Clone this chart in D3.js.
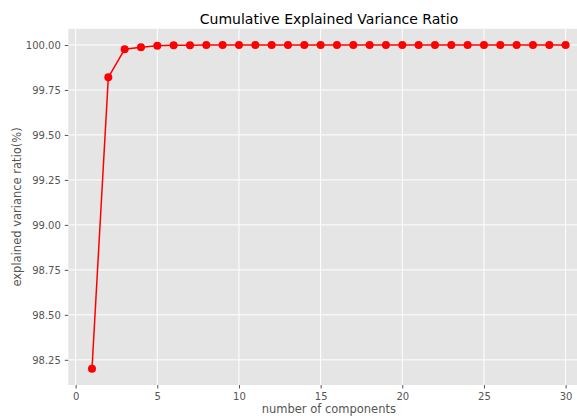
<!DOCTYPE html>
<html>
<head>
<meta charset="utf-8">
<script src="https://d3js.org/d3.v7.min.js"></script>
<style>
  body { margin: 0; background: #fff; }
  svg { font-family: "DejaVu Sans", sans-serif; display: block; }
</style>
</head>
<body>
<div id="chart"></div>
<script>
// data
var components = d3.range(1, 31);
var cumVariance = [98.20, 99.82, 99.976, 99.988, 99.996, 99.998, 99.999, 99.9995, 99.9997, 99.9998,
  99.9999, 99.9999, 100, 100, 100, 100, 100, 100, 100, 100,
  100, 100, 100, 100, 100, 100, 100, 100, 100, 100];
var xTicks = [0, 5, 10, 15, 20, 25, 30];
var yTicks = [98.25, 98.5, 98.75, 99.0, 99.25, 99.5, 99.75, 100.0];

var svgWidth = 577;
var svgHeight = 416;

var margin = { top: 28.8, left: 68.3 };
var width = 589.3 - margin.left;   // axes run past the right edge of the image
var height = 385 - margin.top;

var svg = d3.select("#chart")
  .append("svg")
  .attr("width", svgWidth)
  .attr("height", svgHeight);

var chartGroup = svg.append("g")
  .attr("transform", `translate(${margin.left}, ${margin.top})`);

var xScale = d3.scaleLinear()
  .domain([-0.45, 31.45])
  .range([0, width]);

var yScale = d3.scaleLinear()
  .domain([98.11, 100.09])
  .range([height, 0]);

// background
chartGroup.append("rect")
  .attr("width", width)
  .attr("height", height)
  .attr("fill", "#e5e5e5");

// grid
chartGroup.selectAll(".xgrid")
  .data(xTicks)
  .enter()
  .append("line")
  .attr("x1", d => xScale(d))
  .attr("x2", d => xScale(d))
  .attr("y1", 0)
  .attr("y2", height)
  .attr("stroke", "#fff")
  .attr("stroke-width", 1);

chartGroup.selectAll(".ygrid")
  .data(yTicks)
  .enter()
  .append("line")
  .attr("x1", 0)
  .attr("x2", width)
  .attr("y1", d => yScale(d))
  .attr("y2", d => yScale(d))
  .attr("stroke", "#fff")
  .attr("stroke-width", 1);

// axes
var bottomAxis = d3.axisBottom(xScale)
  .tickValues(xTicks)
  .tickSize(3.5)
  .tickPadding(4);
var leftAxis = d3.axisLeft(yScale)
  .tickValues(yTicks)
  .tickFormat(d3.format(".2f"))
  .tickSize(3.5)
  .tickPadding(4);

var xAxis = chartGroup.append("g")
  .attr("transform", `translate(0, ${height})`)
  .call(bottomAxis);
var yAxis = chartGroup.append("g")
  .call(leftAxis);

[xAxis, yAxis].forEach(function(ax) {
  ax.select(".domain").remove();
  ax.selectAll(".tick line").attr("stroke", "#555");
  ax.selectAll(".tick text")
    .attr("fill", "#555")
    .style("font-size", "10px")
    .style("font-family", "DejaVu Sans, sans-serif");
});

// line + markers
var line = d3.line()
  .x((d, i) => xScale(components[i]))
  .y(d => yScale(d));

chartGroup.append("path")
  .datum(cumVariance)
  .attr("d", line)
  .attr("fill", "none")
  .attr("stroke", "red")
  .attr("stroke-width", 1.5);

chartGroup.selectAll("circle")
  .data(cumVariance)
  .enter()
  .append("circle")
  .attr("cx", (d, i) => xScale(components[i]))
  .attr("cy", d => yScale(d))
  .attr("r", 4)
  .attr("fill", "red");

// labels
svg.append("text")
  .attr("x", 329)
  .attr("y", 24)
  .attr("text-anchor", "middle")
  .style("font-size", "14px")
  .attr("fill", "#000")
  .text("Cumulative Explained Variance Ratio");

svg.append("text")
  .attr("x", margin.left + width / 2)
  .attr("y", 413)
  .attr("text-anchor", "middle")
  .style("font-size", "11.5px")
  .attr("fill", "#555")
  .text("number of components");

svg.append("text")
  .attr("transform", `translate(21, ${margin.top + height / 2}) rotate(-90)`)
  .attr("text-anchor", "middle")
  .style("font-size", "11.5px")
  .attr("fill", "#555")
  .text("explained variance ratio(%)");
</script>
</body>
</html>
